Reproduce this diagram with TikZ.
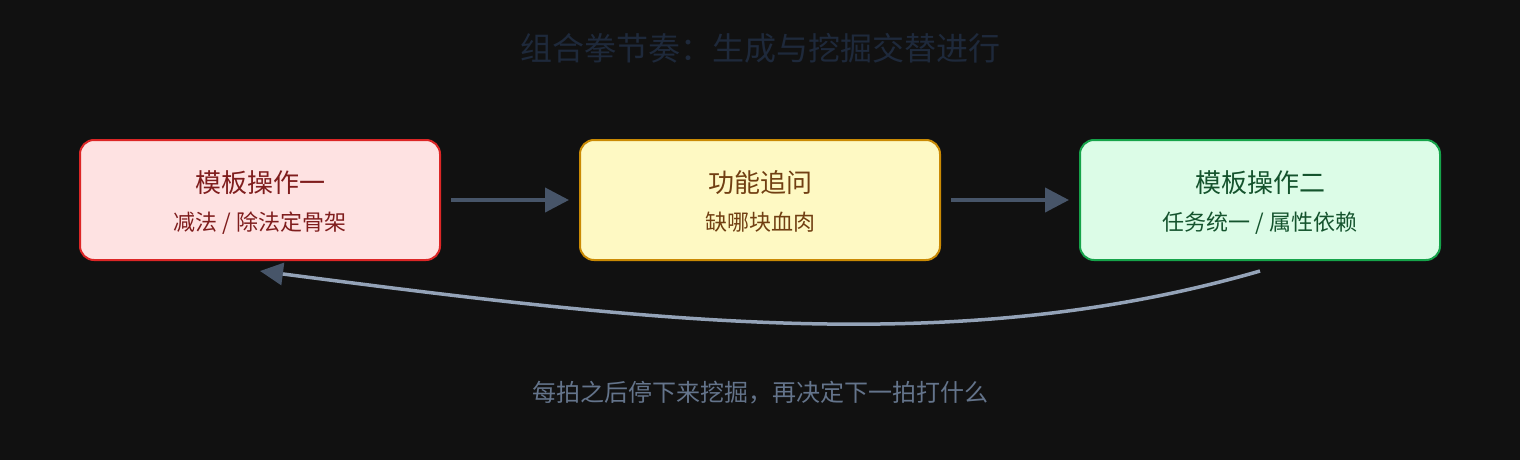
\documentclass[tikz,border=0pt]{standalone}
\usepackage{fontspec}
\setmainfont{Noto Sans CJK SC}
\usetikzlibrary{arrows.meta,calc}
\definecolor{bg}{HTML}{111111}
\definecolor{ttlc}{HTML}{1E293B}
\definecolor{arrc}{HTML}{475569}
\definecolor{curc}{HTML}{94A3B8}
\definecolor{notec}{HTML}{64748B}
\definecolor{rfill}{HTML}{FEE2E2}
\definecolor{rline}{HTML}{DC2626}
\definecolor{rtext}{HTML}{7F1D1D}
\definecolor{yfill}{HTML}{FEF9C3}
\definecolor{yline}{HTML}{CA8A04}
\definecolor{ytext}{HTML}{713F12}
\definecolor{gfill}{HTML}{DCFCE7}
\definecolor{gline}{HTML}{16A34A}
\definecolor{gtext}{HTML}{14532D}
\tikzset{
  box/.style={draw, line width=2pt, rounded corners=14pt, minimum width=360pt, minimum height=120pt, inner sep=0pt},
  boxttl/.style={anchor=base, inner sep=0pt, font=\fontsize{26pt}{30pt}\selectfont},
  boxsub/.style={anchor=base, inner sep=0pt, font=\fontsize{22pt}{26pt}\selectfont},
  flow/.style={draw=arrc, line width=4pt, -{Triangle[length=24pt,width=24pt]}},
  back/.style={draw=curc, line width=3.5pt, -{Triangle[length=23pt,width=22pt,color=arrc]}},
}
\begin{document}
\begin{tikzpicture}[x=1pt,y=-1pt]
\fill[bg] (0,0) rectangle (1520,460);
\useasboundingbox (0,0) rectangle (1520,460);
\node[anchor=base, inner sep=0pt, text=ttlc, font=\fontsize{32pt}{36pt}\selectfont] (title) at (760,60) {组合拳节奏：生成与挖掘交替进行};
\node[box, fill=rfill, draw=rline] (a) at (260,200) {};
\node[box, fill=yfill, draw=yline] (b) at (760,200) {};
\node[box, fill=gfill, draw=gline] (c) at (1260,200) {};
\node[boxttl, text=rtext] (at) at (260,192) {模板操作一};
\node[boxsub, text=rtext] (as) at (260,230.5) {减法 / 除法定骨架};
\node[boxttl, text=ytext] (bt) at (760,192) {功能追问};
\node[boxsub, text=ytext] (bs) at (760,230.5) {缺哪块血肉};
\node[boxttl, text=gtext] (ct) at (1260,192) {模板操作二};
\node[boxsub, text=gtext] (cs) at (1260,230.5) {任务统一 / 属性依赖};
\draw[flow, shorten <=10pt, shorten >=10pt] (a.east) -- (b.west);
\draw[flow, shorten <=10pt, shorten >=10pt] (b.east) -- (c.west);
\coordinate (cs0) at ($(c.south)+(0,10)$);
\coordinate (as0) at ($(a.south)+(0,10)$);
\draw[back] (cs0) .. controls +(-300,87) and +(400,52) .. (as0);
\node[anchor=base, inner sep=0pt, text=notec, font=\fontsize{24pt}{28pt}\selectfont] (note) at (760,401) {每拍之后停下来挖掘，再决定下一拍打什么};
\end{tikzpicture}
\end{document}
